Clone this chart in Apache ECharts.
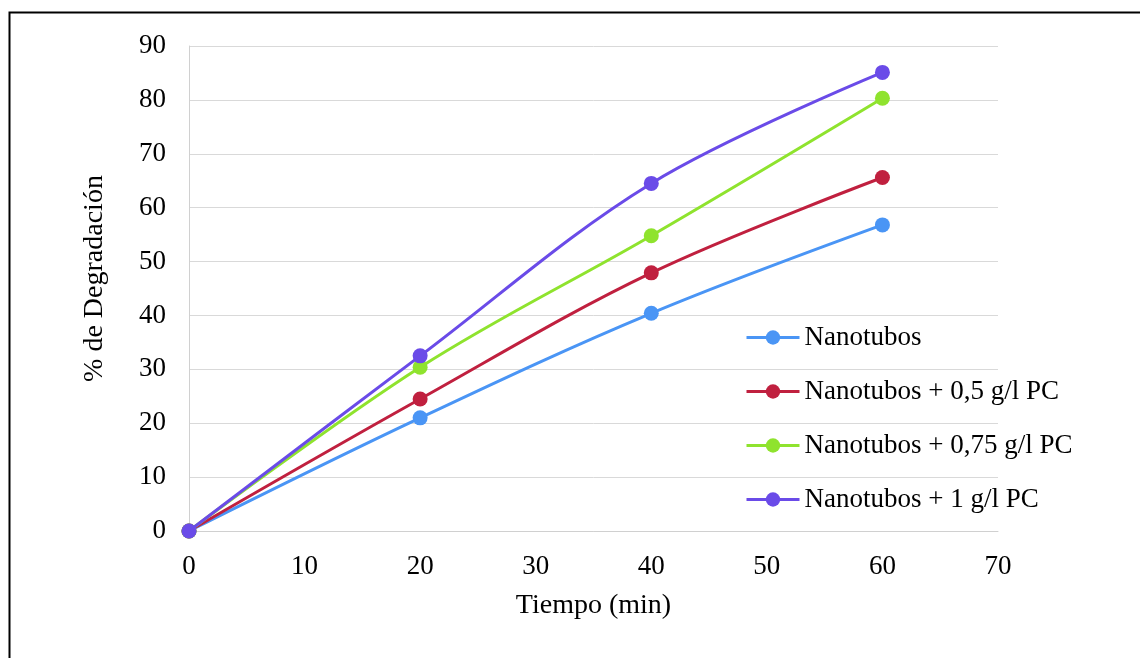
<!DOCTYPE html>
<html>
<head>
<meta charset="utf-8">
<style>
html,body{margin:0;padding:0;background:#fff;}
#chart{width:1140px;height:658px;}
</style>
<script src="https://cdn.jsdelivr.net/npm/echarts@6/dist/echarts.min.js"></script>
</head>
<body>
<div id="chart"></div>
<script>
var times = [0, 20, 40, 60];
var seriesNames = ['Nanotubos', 'Nanotubos + 0,5 g/l PC', 'Nanotubos + 0,75 g/l PC', 'Nanotubos + 1 g/l PC'];
var nanotubos = [0, 21.0, 40.4, 56.8];
var pc05 = [0, 24.5, 47.9, 65.6];
var pc075 = [0, 30.4, 54.8, 80.3];
var pc1 = [0, 32.5, 64.5, 85.1];
var colors = ['#4a95f5', '#c0203f', '#8fe32e', '#6a4be8'];
var values = [nanotubos, pc05, pc075, pc1];

var font = '"Liberation Serif", "Times New Roman", serif';

var chart = echarts.init(document.getElementById('chart'), null, {renderer: 'canvas'});
var series = values.map(function (vals, i) {
  return {
    name: seriesNames[i],
    type: 'line',
    smooth: 0.35,
    symbol: 'circle',
    symbolSize: 15,
    data: times.map(function (t, j) { return [t, vals[j]]; }),
    lineStyle: {width: 3, color: colors[i]},
    itemStyle: {color: colors[i]},
    z: 2 + i
  };
});

chart.setOption({
  animation: false,
  backgroundColor: '#ffffff',
  graphic: [{
    type: 'rect',
    shape: {x: 9.5, y: 12.5, width: 1300, height: 800},
    style: {fill: 'none', stroke: '#000', lineWidth: 2},
    silent: true
  }],
  grid: {left: 189, right: 142, top: 46, bottom: 127, containLabel: false},
  legend: {
    orient: 'vertical',
    left: 745,
    top: 324,
    padding: 0,
    itemWidth: 53,
    itemHeight: 18,
    itemGap: 27,
    lineStyle: {width: 3},
    textStyle: {fontFamily: font, fontSize: 27, color: '#000'},
    data: seriesNames
  },
  xAxis: {
    type: 'value',
    min: 0, max: 70, interval: 10,
    name: 'Tiempo (min)',
    nameLocation: 'middle',
    nameGap: 61,
    nameTextStyle: {fontFamily: font, fontSize: 28, color: '#000'},
    axisLine: {show: true, lineStyle: {color: '#d0d0d0', width: 1}},
    axisTick: {show: false},
    axisLabel: {fontFamily: font, fontSize: 27, color: '#000', margin: 22},
    splitLine: {show: false}
  },
  yAxis: {
    type: 'value',
    min: 0, max: 90, interval: 10,
    name: '% de Degradación',
    nameLocation: 'middle',
    nameGap: 80,
    nameTextStyle: {fontFamily: font, fontSize: 28, color: '#000', padding: [0, 0, 0, 20]},
    axisLine: {show: true, lineStyle: {color: '#d0d0d0', width: 1}},
    axisTick: {show: false},
    axisLabel: {fontFamily: font, fontSize: 27, color: '#000', margin: 23},
    splitLine: {show: true, lineStyle: {color: '#d9d9d9', width: 1}}
  },
  series: series
});
</script>
</body>
</html>
